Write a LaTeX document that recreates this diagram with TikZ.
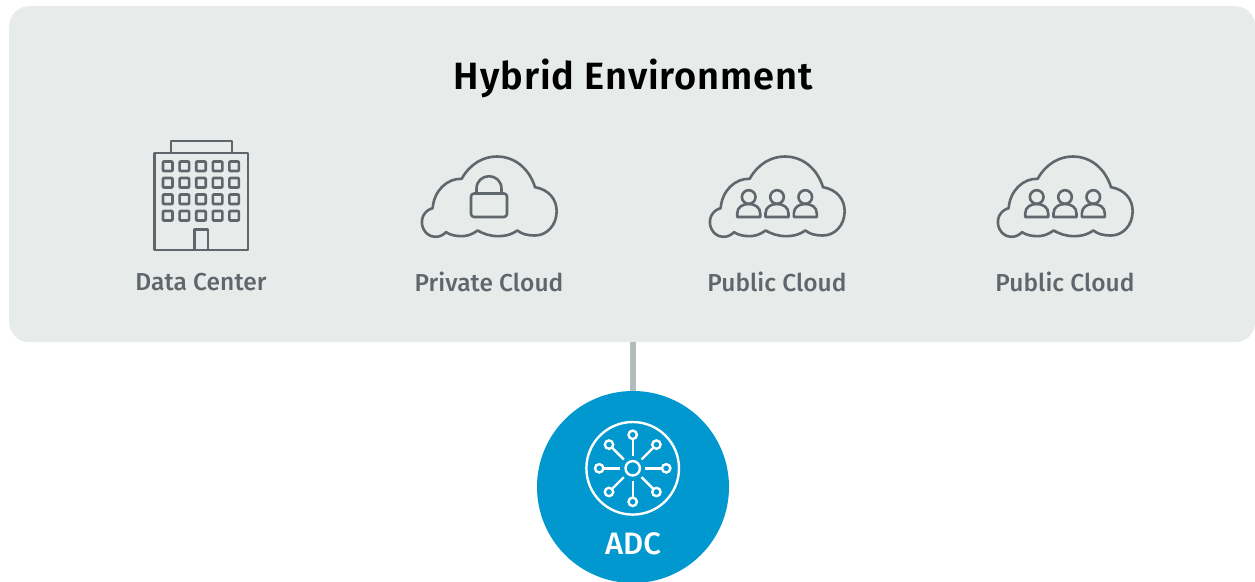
\documentclass[tikz,border=0pt]{standalone}
\usepackage{fontspec}
\setmainfont{Fira Sans}
\newfontfamily\medfont{Fira Sans Medium}
\newfontfamily\semifont{Fira Sans SemiBold}
\definecolor{panelgrey}{HTML}{E7EBEA}
\definecolor{icongrey}{HTML}{5F676C}
\definecolor{linkgrey}{HTML}{B4BBBC}
\definecolor{adcblue}{HTML}{0098CE}
\tikzset{
  x=1pt,y=-1pt,
  panelbox/.style={fill=panelgrey,draw=none,rounded corners=20pt,inner sep=0pt,minimum width=1246pt,minimum height=336pt},
  hub/.style={circle,fill=adcblue,draw=none,minimum size=192pt,inner sep=0pt},
  link/.style={draw=linkgrey,line width=5.5pt},
  title/.style={font=\fontsize{38}{40}\selectfont\semifont\addfontfeature{LetterSpace=2.4},text=black,inner sep=0pt,anchor=center},
  caption/.style={font=\fontsize{24.5}{28}\selectfont\medfont\addfontfeature{LetterSpace=0.3},text=icongrey,inner sep=0pt,anchor=center},
  adclabel/.style={font=\fontsize{31}{34}\selectfont\medfont,text=white,inner sep=0pt,anchor=center},
  iconline/.style={draw=icongrey,line width=2.6pt,line join=round,fill=none},
  whiteline/.style={draw=white,line width=2.4pt,fill=none},
  pics/cloud/.style={code={
    \draw[iconline,x=0.3333pt,y=-0.3333pt]
      (108,260) .. controls (90,280) and (55,280) .. (40,250)
      .. controls (28,222) and (42,195) .. (68,188)
      .. controls (72,135) and (112,98) .. (155,100)
      .. controls (180,55) and (220,33) .. (260,33)
      .. controls (315,33) and (358,70) .. (375,125)
      .. controls (415,132) and (440,160) .. (440,197)
      .. controls (440,240) and (410,270) .. (375,270)
      .. controls (350,270) and (335,265) .. (322,255)
      .. controls (300,270) and (280,272) .. (265,272)
      .. controls (240,272) and (220,265) .. (203,255)
      .. controls (185,268) and (170,272) .. (155,272)
      .. controls (135,272) and (120,268) .. (108,260) -- cycle;
  }},
  pics/person/.style={code={
    \draw[iconline] (0,-11) circle (6.8);
    \draw[iconline] (-11.5,9) -- (-11.5,5.5) .. controls (-11.5,-1) and (-6,-4) .. (0,-4)
      .. controls (6,-4) and (11.5,-1) .. (11.5,5.5) -- (11.5,9) -- cycle;
  }}
}
\begin{document}
\begin{tikzpicture}
\useasboundingbox (0,0) rectangle (1255,581);
\node[panelbox,anchor=north west] (panel) at (9,6) {};
\node[hub] (adc) at (633,487) {};
\draw[link] (panel.south -| adc.north) -- (adc.north);
\node[title] (ttl) at (633.5,78) {Hybrid Environment};
\node[caption] (cap1) at (201,282) {Data Center};
\node[caption] (cap2) at (489,282) {Private Cloud};
\node[caption] (cap3) at (777,282) {Public Cloud};
\node[caption] (cap4) at (1065,282) {Public Cloud};
\node[adclabel] (adct) at (633,544) {ADC};
% building
\draw[iconline] (154.5,153) rectangle (248,250);
\draw[iconline] (171,153) -- (171,141) -- (232,141) -- (232,153);
\draw[iconline] (194.5,250) -- (194.5,229.5) -- (208,229.5) -- (208,250);
\foreach \c in {0,...,4} \foreach \r in {0,...,3}
  \draw[iconline,rounded corners=0.8pt] ({163+16.6*\c},{161.5+16.5*\r}) rectangle +(9.5,9.5);
% clouds
\pic at (410,145.5) {cloud};
\pic at (698,145.5) {cloud};
\pic at (986,145.5) {cloud};
% lock
\draw[iconline,rounded corners=3pt] (471,193.5) rectangle (507,217);
\draw[iconline] (476.5,193.5) -- (476.5,189) .. controls (476.5,172) and (501.5,172) .. (501.5,189) -- (501.5,193.5);
% people
\foreach \ox in {698,986}
  \foreach \px in {50.7,79,107.3}
    \pic at ({\ox+\px},208) {person};
% hub icon
\coordinate (hc) at (632.7,468.3);
\draw[whiteline] (hc) circle (46.3);
\draw[whiteline] (hc) circle (7.2);
\foreach \a in {0,45,...,315} {
  \draw[whiteline] (hc) ++(\a:12.5) -- ++(\a:16.5);
  \draw[whiteline] (hc) ++(\a:33.5) circle (4.2);
}
\end{tikzpicture}
\end{document}
